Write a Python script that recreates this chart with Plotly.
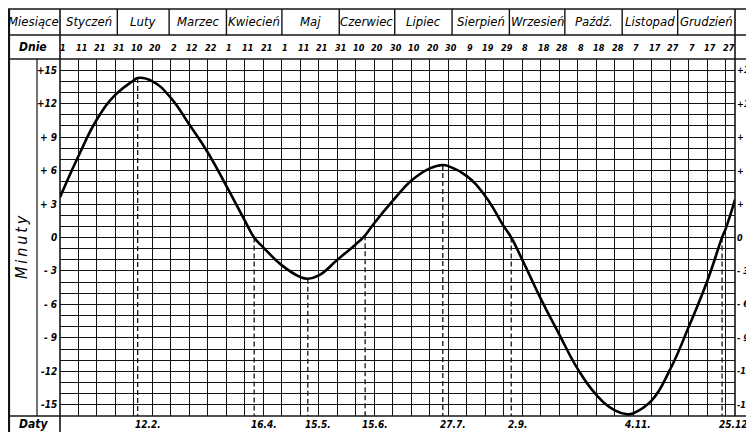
import numpy as np
import plotly.graph_objects as go

# ---------------- data ----------------
curve_days = [1, 11, 21, 31, 41, 43, 51, 61, 71, 81, 91, 101, 106, 111, 121, 131, 135,
              141, 151, 161, 166, 171, 181, 191, 201, 208, 211, 221, 231, 241, 245,
              251, 261, 271, 281, 291, 301, 308, 311, 321, 331, 341, 351, 359, 361, 366]
curve_minutes = [3.6, 7.3, 10.6, 12.8, 14.1, 14.3, 14.0, 12.5, 10.1, 7.6, 4.6, 1.5, 0.0,
                 -0.9, -2.5, -3.55, -3.7, -3.4, -2.0, -0.6, 0.2, 1.3, 3.3, 5.1, 6.2, 6.5,
                 6.4, 5.5, 3.7, 1.0, 0.0, -2.0, -5.5, -8.7, -11.8, -14.1, -15.5, -15.85,
                 -15.75, -14.6, -11.8, -8.0, -3.9, 0.0, 0.8, 3.4]

months = ["Styczeń", "Luty", "Marzec", "Kwiecień", "Maj", "Czerwiec", "Lipiec",
          "Sierpień", "Wrzesień", "Paźdź.", "Listopad", "Grudzień"]
month_start = [1, 32, 60, 91, 121, 152, 182, 213, 244, 274, 305, 335]
year_end = 366

day_lines = list(range(1, 362, 10))
day_labels = ["1", "11", "21", "31", "10", "20", "2", "12", "22", "1", "11", "21",
              "1", "11", "21", "31", "10", "20", "30", "10", "20", "30", "9", "19", "29",
              "8", "18", "28", "8", "18", "28", "7", "17", "27", "7", "17", "27"]

key_days = [43, 106, 135, 166, 208, 245, 308, 359]
key_labels = ["12.2.", "16.4.", "15.5.", "15.6.", "27.7.", "2.9.", "4.11.", "25.12."]

y_ticks = [15, 12, 9, 6, 3, 0, -3, -6, -9, -12, -15]
y_tick_text = ["+15", "+12", "+ 9", "+ 6", "+ 3", "0", "- 3", "- 6", "- 9", "-12", "-15"]

# ---------------- layout geometry (page pixels; body has an 8px margin) ----------------
OFF = 8
FW, FH = 754 - OFF, 432 - OFF
PL, PR, PT, PB = 60, 735, 59, 416          # plot area in page pixels
L, T = PL - OFF, PT - OFF
R, B = FW - (PR - OFF), FH - (PB - OFF)
PW, PH = PR - PL, PB - PT


def px_x(p):
    return (p - PL) / PW


def px_y(p):
    return (PB - p) / PH


FONT = "Liberation Sans Narrow, DejaVu Sans Condensed, Liberation Sans, sans-serif"
INK = "#141414"

fig = go.Figure()

# dashed date lines
key_top = np.interp(key_days, curve_days, curve_minutes)
for d, top in zip(key_days, key_top):
    fig.add_trace(go.Scatter(x=[d, d], y=[top, -16], mode="lines",
                             line=dict(color=INK, width=1.3, dash="5px,3px"),
                             hoverinfo="skip", showlegend=False))

# main curve
fig.add_trace(go.Scatter(x=curve_days, y=curve_minutes, mode="lines",
                         line=dict(color="black", width=2.6, shape="spline", smoothing=1.3),
                         showlegend=False))

shapes = []


def hline(py, x0=OFF, x1=754, w=1.4):
    shapes.append(dict(type="line", xref="paper", yref="paper",
                       x0=px_x(x0), x1=px_x(x1), y0=px_y(py), y1=px_y(py),
                       line=dict(color=INK, width=w)))


def vline(px, y0, y1, w=1.4):
    shapes.append(dict(type="line", xref="paper", yref="paper",
                       x0=px_x(px), x1=px_x(px), y0=px_y(y0), y1=px_y(y1),
                       line=dict(color=INK, width=w)))


TOP, ROWSEP = 9, 35
hline(TOP)
hline(ROWSEP)
hline(PT, w=1.6)
hline(PB, w=1.6)
vline(OFF + 1, TOP, 432, w=2.2)
vline(PL, TOP, 432, w=1.6)
vline(37, PT, PB, w=1.2)
vline(PR, TOP, PB, w=1.6)

# month separators in the header row (data x)
for d in month_start[1:]:
    shapes.append(dict(type="line", xref="x", yref="paper", x0=d, x1=d,
                       y0=px_y(ROWSEP), y1=px_y(TOP), line=dict(color=INK, width=1.4)))

annotations = []


def txt(text, x, y, xref="paper", yref="paper", size=12, xanchor="center",
        yanchor="middle", angle=0, xshift=0, bold=False):
    annotations.append(dict(text=text, x=x, y=y, xref=xref, yref=yref, showarrow=False,
                            xanchor=xanchor, yanchor=yanchor, textangle=angle,
                            xshift=xshift, borderpad=0,
                            font=dict(family=FONT, size=size, color="black",
                                      style="italic",
                                      weight="bold" if bold else "normal")))


txt("Miesiące", px_x(33), px_y((TOP + ROWSEP) / 2), size=13)
txt("Dnie", px_x(33), px_y((ROWSEP + PT) / 2), size=12, bold=True)
txt("Daty", px_x(33), px_y(424), size=12, bold=True)
txt("M\u2009i\u2009n\u2009u\u2009t\u2009y", px_x(22), -0.85, yref="y", size=16, angle=-90)

for name, s, e in zip(months, month_start, month_start[1:] + [year_end]):
    txt(name, (s + e) / 2, px_y((TOP + ROWSEP) / 2), xref="x", size=13)

for d, lab in zip(day_lines, day_labels):
    txt(lab, d, px_y((ROWSEP + PT) / 2 + 1), xref="x", size=9, xshift=3, bold=True)

for d, lab in zip(key_days, key_labels):
    txt(lab, d, px_y(424), xref="x", size=10, xanchor="left", xshift=-4, bold=True)

for v, lab in zip(y_ticks, y_tick_text):
    txt(lab, px_x(58), v, yref="y", size=10, xanchor="right", bold=True)
    txt(lab, px_x(PR + 1), v, yref="y", size=9, xanchor="left", bold=True)

fig.update_layout(
    width=FW, height=FH,
    margin=dict(l=L, r=R, t=T, b=B, pad=0),
    paper_bgcolor="white", plot_bgcolor="white",
    shapes=shapes, annotations=annotations,
    xaxis=dict(range=[1, year_end], tickvals=day_lines, showticklabels=False,
               showgrid=True, gridcolor=INK, gridwidth=1.1, zeroline=False,
               showline=False, ticks="", fixedrange=True),
    yaxis=dict(range=[-16, 16], tickvals=list(range(-16, 17)), showticklabels=False,
               showgrid=True, gridcolor=INK, gridwidth=1.1, zeroline=False,
               showline=False, ticks="", fixedrange=True),
)

fig.write_html("out.html")
